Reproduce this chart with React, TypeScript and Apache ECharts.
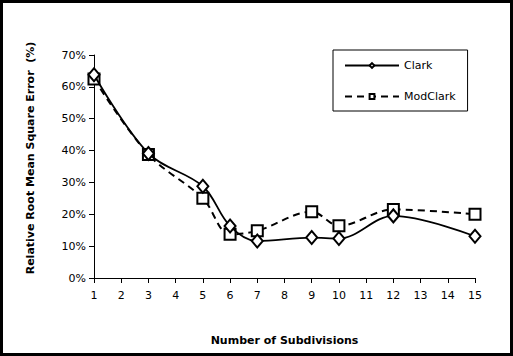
import React, { useEffect, useRef } from "react";
import * as echarts from "echarts";

const subdivisions = [1, 3, 5, 6, 7, 9, 10, 12, 15];
const clark = [63.8, 39.1, 28.8, 16.3, 11.6, 12.7, 12.4, 19.5, 13.1];
const modClark = [62.5, 38.8, 25.0, 13.7, 14.8, 20.8, 16.4, 21.5, 20.0];
const seriesNames = ["Clark", "ModClark"];
const xTitle = "Number of Subdivisions";
const yTitle = "Relative Root Mean Square Error  (%)";

const FONT = "DejaVu Sans";

export default function App() {
  const ref = useRef<HTMLDivElement>(null);
  useEffect(() => {
    document.body.style.margin = "0";
    const chart = echarts.init(ref.current!, null, { renderer: "svg" });
    chart.setOption({
      animation: false,
      backgroundColor: "#fff",
      textStyle: { fontFamily: FONT },
      grid: { left: 94, right: 38, top: 55, bottom: 78 },
      legend: {
        orient: "vertical",
        left: 333,
        top: 50,
        data: seriesNames,
        itemWidth: 54,
        itemHeight: 6,
        itemGap: 20,
        padding: [10, 12, 9, 11],
        borderColor: "#000",
        borderWidth: 1,
        textStyle: { fontFamily: FONT, fontSize: 11, color: "#000" },
      },
      xAxis: {
        type: "value",
        min: 1,
        max: 15,
        interval: 1,
        name: xTitle,
        nameLocation: "middle",
        nameGap: 57,
        nameTextStyle: { fontFamily: FONT, fontSize: 11, fontWeight: "bold", color: "#000" },
        axisLine: { lineStyle: { color: "#000", width: 1 } },
        axisTick: { show: true, length: 5, lineStyle: { color: "#000" } },
        axisLabel: { color: "#000", fontSize: 11, fontFamily: FONT, margin: 12 },
        splitLine: { show: false },
      },
      yAxis: {
        type: "value",
        min: 0,
        max: 70,
        interval: 10,
        axisLine: { show: true, lineStyle: { color: "#000", width: 1 } },
        axisTick: { show: true, length: 5, lineStyle: { color: "#000" } },
        axisLabel: { color: "#000", fontSize: 11, fontFamily: FONT, margin: 8, formatter: "{value}%" },
        splitLine: { show: false },
      },
      graphic: [
        {
          type: "rect",
          shape: { x: 1.5, y: 1.5, width: 510, height: 353 },
          style: { fill: "none", stroke: "#000", lineWidth: 3 },
          silent: true,
        },
        {
          type: "text",
          x: 30,
          y: 158,
          rotation: Math.PI / 2,
          style: {
            text: yTitle,
            fontFamily: FONT,
            fontSize: 11,
            fontWeight: "bold",
            fill: "#000",
            align: "center",
            verticalAlign: "middle",
          },
        },
      ],
      series: [
        {
          name: seriesNames[0],
          type: "line",
          smooth: 0.35,
          data: subdivisions.map((x, i) => [x, clark[i]]),
          symbol: "emptyDiamond",
          symbolSize: [11, 13],
          lineStyle: { color: "#000", width: 1.8, type: "solid" },
          itemStyle: { color: "#000", borderWidth: 1.8 },
          z: 3,
        },
        {
          name: seriesNames[1],
          type: "line",
          smooth: 0.35,
          data: subdivisions.map((x, i) => [x, modClark[i]]),
          symbol: "emptyRect",
          symbolSize: 11,
          lineStyle: { color: "#000", width: 2, type: [7, 5] },
          itemStyle: { color: "#000", borderWidth: 2 },
          z: 2,
        },
      ],
    });
    return () => chart.dispose();
  }, []);
  return <div ref={ref} style={{ width: 513, height: 356 }} />;
}
